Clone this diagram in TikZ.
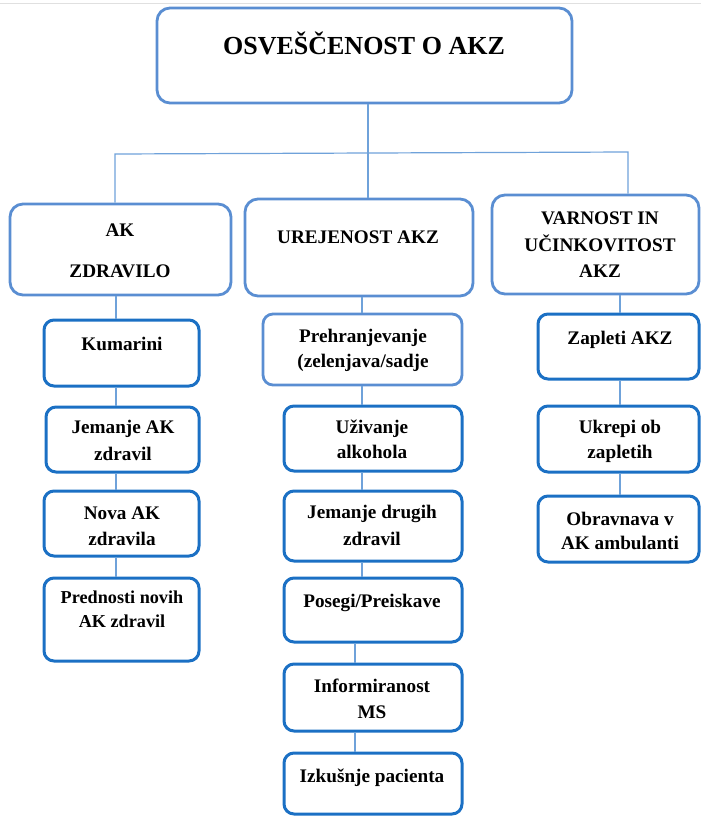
\documentclass[tikz,border=0pt]{standalone}
\usepackage{fontspec}
\setmainfont{Liberation Serif}
\definecolor{topblue}{HTML}{5A8ED2}
\definecolor{boxblue}{HTML}{1B70C4}
\definecolor{linkblue}{HTML}{6FA2DA}
\tikzset{
  bigbox/.style={draw=topblue, line width=2.8pt, rounded corners=13pt, inner sep=0pt},
  smallbox/.style={draw=boxblue, line width=3pt, rounded corners=10pt, inner sep=0pt},
  softbox/.style={draw=topblue, line width=2.8pt, rounded corners=10pt, inner sep=0pt},
  lbl/.style={anchor=base, inner sep=0pt, font=\bfseries\fontsize{19.2}{23}\selectfont},
  lbls/.style={anchor=base, inner sep=0pt, font=\bfseries\fontsize{18.2}{22}\selectfont},
  ttl/.style={anchor=base, inner sep=0pt, font=\bfseries\fontsize{26}{31}\selectfont},
  link/.style={draw=linkblue, line width=1.2pt}
}
\begin{document}
\begin{tikzpicture}[x=1pt,y=-1pt]
\useasboundingbox (0,0) rectangle (701,817);
\draw[black!12, line width=1pt] (0,3) -- (701,3);
% boxes
\node[bigbox, minimum width=415pt, minimum height=95pt] (top) at (364.5,55.5) {};
\node[bigbox, minimum width=221pt, minimum height=91pt] (ak) at (120.5,249.5) {};
\node[bigbox, minimum width=228pt, minimum height=97pt] (ur) at (359,247.5) {};
\node[bigbox, minimum width=207pt, minimum height=99pt] (va) at (595.5,244.5) {};
\node[smallbox, minimum width=155pt, minimum height=66pt] (kum) at (121.5,353) {};
\node[smallbox, minimum width=153pt, minimum height=65pt] (jak) at (122.5,439.5) {};
\node[smallbox, minimum width=155pt, minimum height=65pt] (nova) at (121.5,523.5) {};
\node[smallbox, minimum width=155pt, minimum height=83pt] (pred) at (121.5,619.5) {};
\node[softbox, minimum width=199pt, minimum height=71pt] (preh) at (362.5,349.5) {};
\node[smallbox, minimum width=178pt, minimum height=65pt] (uziv) at (373,438.5) {};
\node[smallbox, minimum width=178pt, minimum height=70pt] (jdr) at (373,526) {};
\node[smallbox, minimum width=178pt, minimum height=64pt] (pos) at (373,610) {};
\node[smallbox, minimum width=178pt, minimum height=67pt] (inf) at (373,697.5) {};
\node[smallbox, minimum width=178pt, minimum height=61pt] (izk) at (373,783.5) {};
\node[smallbox, minimum width=161pt, minimum height=65pt] (zap) at (618.5,346.5) {};
\node[smallbox, minimum width=161pt, minimum height=66pt] (ukr) at (618.5,439) {};
\node[smallbox, minimum width=161pt, minimum height=66pt] (obr) at (618.5,529) {};
% texts
\node[ttl] (t1) at (364,54) {OSVEŠČENOST O AKZ};
\node[lbl] (t2) at (120,236) {AK};
\node[lbl] (t3) at (120,277) {ZDRAVILO};
\node[lbl] (t4) at (358,243) {UREJENOST AKZ};
\node[lbl] (t5) at (600,224) {VARNOST IN};
\node[lbl] (t6) at (600,251) {UČINKOVITOST};
\node[lbl] (t7) at (600,277) {AKZ};
\node[lbl] (t8) at (122,350) {Kumarini};
\node[lbl] (t9) at (123,433) {Jemanje AK};
\node[lbl] (t10) at (123,460) {zdravil};
\node[lbl] (t11) at (122,519) {Nova AK};
\node[lbl] (t12) at (122,545) {zdravila};
\node[lbls] (t13) at (122,603) {Prednosti novih};
\node[lbls] (t14) at (122,627) {AK zdravil};
\node[lbl] (t15) at (363,342) {Prehranjevanje};
\node[lbl] (t16) at (363,367) {(zelenjava/sadje};
\node[lbl] (t17) at (372,433) {Uživanje};
\node[lbl] (t18) at (372,458) {alkohola};
\node[lbl] (t19) at (372,518) {Jemanje drugih};
\node[lbl] (t20) at (372,545) {zdravil};
\node[lbl] (t21) at (372,607) {Posegi/Preiskave};
\node[lbl] (t22) at (372,692) {Informiranost};
\node[lbl] (t23) at (372,718) {MS};
\node[lbl] (t24) at (372,782) {Izkušnje pacienta};
\node[lbl] (t25) at (620,344) {Zapleti AKZ};
\node[lbl] (t26) at (620,433) {Ukrepi ob};
\node[lbl] (t27) at (620,458) {zapletih};
\node[lbl] (t28) at (620,525) {Obravnava v};
\node[lbl] (t29) at (620,549) {AK ambulanti};
% connector guides
\coordinate (cT) at (368,0);
\coordinate (hL) at (115,154);
\coordinate (hR) at (628,152);
\coordinate (cL) at (116,0);
\coordinate (cM) at (362,0);
\coordinate (cM2) at (355,0);
\coordinate (cR) at (620,0);
% connectors
\path[link] (top.south -| cT) -- (ur.north -| cT);
\path[link] (ak.north -| hL) -- (hL) -- (hR) -- (va.north -| hR);
\path[link] (ak.south -| cL) -- (kum.north -| cL);
\path[link] (kum.south -| cL) -- (jak.north -| cL);
\path[link] (jak.south -| cL) -- (nova.north -| cL);
\path[link] (nova.south -| cL) -- (pred.north -| cL);
\path[link] (ur.south -| cM) -- (preh.north -| cM);
\path[link] (preh.south -| cM) -- (uziv.north -| cM);
\path[link] (uziv.south -| cM) -- (jdr.north -| cM);
\path[link] (jdr.south -| cM) -- (pos.north -| cM);
\path[link] (pos.south -| cM2) -- (inf.north -| cM2);
\path[link] (inf.south -| cM2) -- (izk.north -| cM2);
\path[link] (va.south -| cR) -- (zap.north -| cR);
\path[link] (zap.south -| cR) -- (ukr.north -| cR);
\path[link] (ukr.south -| cR) -- (obr.north -| cR);
\end{tikzpicture}
\end{document}
